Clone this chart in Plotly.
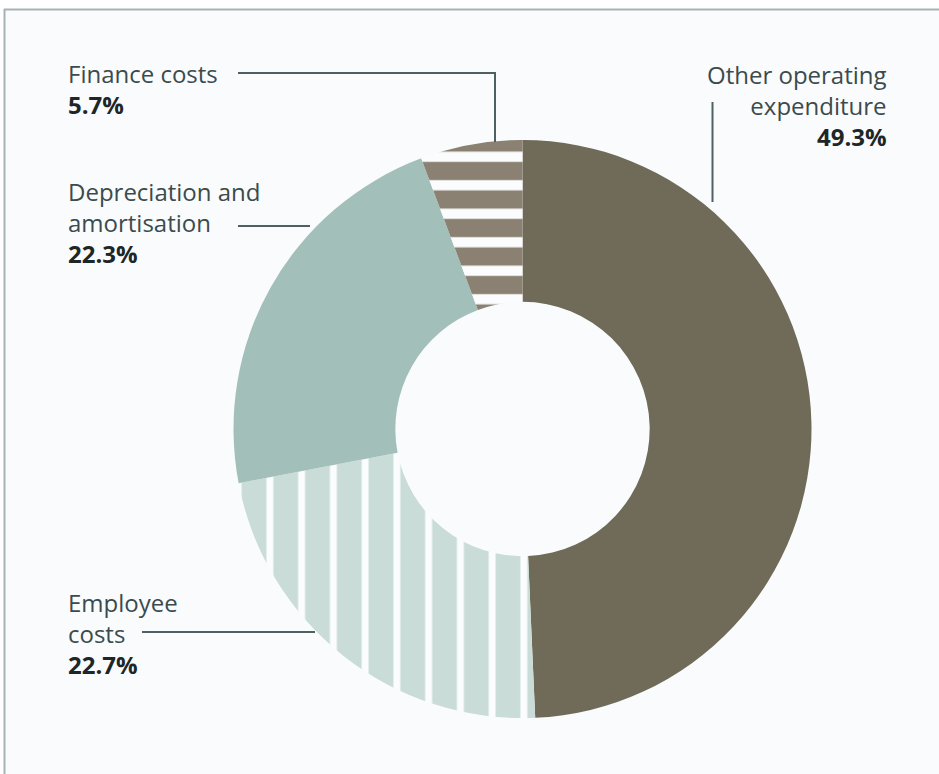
import plotly.graph_objects as go

W, H = 939, 774

# Cost breakdown (share of total expenditure, %)
labels = ["Other operating expenditure", "Employee costs",
          "Depreciation and amortisation", "Finance costs"]
values = [49.3, 22.7, 22.3, 5.7]
colors = ["#6f6b58", "#c9dcd7", "#a3bfb9", "#8a8172"]
shapes_pat = ["", "|", "", "-"]

# Callout text: (label lines, percentage text)
callouts = {
    "Other operating expenditure": ("Other operating<br>expenditure", "49.3%"),
    "Employee costs": ("Employee<br>costs", "22.7%"),
    "Depreciation and amortisation": ("Depreciation and<br>amortisation", "22.3%"),
    "Finance costs": ("Finance costs", "5.7%"),
}


def px(x):
    return x / W


def py(y):
    return 1 - y / H


fig = go.Figure()
fig.add_trace(go.Pie(
    labels=labels,
    values=values,
    sort=False,
    direction="clockwise",
    rotation=0,
    hole=0.44,
    textinfo="none",
    hoverinfo="label+percent",
    showlegend=False,
    domain=dict(x=[px(233), px(812)], y=[py(718), py(140)]),
    marker=dict(
        colors=colors,
        line=dict(width=0),
        pattern=dict(
            shape=shapes_pat,
            fgcolor="#fbfcfd",
            bgcolor=colors,
            size=[10, 31.75, 10, 28.5],
            solidity=[0.3, 0.22, 0.3, 0.36],
            fillmode="replace",
        ),
    ),
))

NAME_C = "#3b4b4c"
PCT_C = "#1e2727"
LINE_C = "#4e6061"
FONT = "Open Sans, Lato, sans-serif"


def block(key):
    name, pct = callouts[key]
    return f"{name}<br><span style='color:{PCT_C}'><b>{pct}</b></span>"


annotations = [
    dict(text=block("Finance costs"), x=px(66), y=py(89),
         xanchor="left", yanchor="middle", align="left"),
    dict(text=block("Depreciation and amortisation"), x=px(66), y=py(222),
         xanchor="left", yanchor="middle", align="left"),
    dict(text=block("Employee costs"), x=px(66), y=py(633),
         xanchor="left", yanchor="middle", align="left"),
    dict(text=block("Other operating expenditure"), x=px(889), y=py(105),
         xanchor="right", yanchor="middle", align="right"),
]
for a in annotations:
    a.update(xref="paper", yref="paper", showarrow=False,
             font=dict(family=FONT, size=24, color=NAME_C))

shapes = [
    # panel background and frame
    dict(type="rect", x0=px(4), x1=px(W), y0=py(H), y1=py(9),
         fillcolor="#fafbfd", line=dict(width=0), layer="below"),
    dict(type="line", x0=px(4), x1=px(W), y0=py(9.5), y1=py(9.5),
         line=dict(color="#a7b2b5", width=2)),
    dict(type="line", x0=px(4.5), x1=px(4.5), y0=py(9), y1=py(H),
         line=dict(color="#a7b2b5", width=2)),
    # leader lines
    dict(type="path",
         path=f"M {px(238)},{py(73)} L {px(495)},{py(73)} L {px(495)},{py(142)}",
         line=dict(color=LINE_C, width=2)),
    dict(type="line", x0=px(238), x1=px(310), y0=py(226), y1=py(226),
         line=dict(color=LINE_C, width=2)),
    dict(type="line", x0=px(142), x1=px(315), y0=py(632), y1=py(632),
         line=dict(color=LINE_C, width=2)),
    dict(type="line", x0=px(712.5), x1=px(712.5), y0=py(102), y1=py(202),
         line=dict(color=LINE_C, width=2)),
]
for s in shapes:
    s.update(xref="paper", yref="paper")

fig.update_layout(
    width=W, height=H,
    margin=dict(l=0, r=0, t=0, b=0),
    paper_bgcolor="#ffffff",
    plot_bgcolor="#ffffff",
    annotations=annotations,
    shapes=shapes,
)

fig.write_html("out.html")
